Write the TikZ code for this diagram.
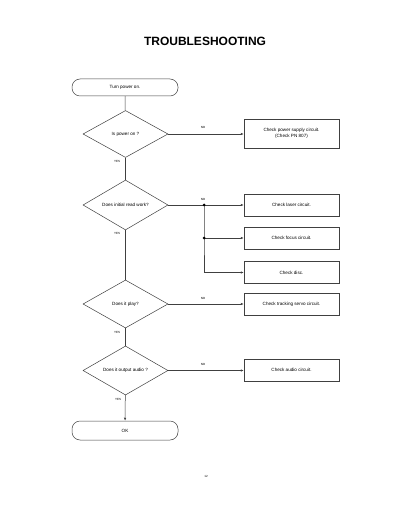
\documentclass[tikz,border=0pt]{standalone}
\usepackage{fontspec}
\setmainfont{Liberation Sans}
\usetikzlibrary{shapes.geometric,arrows.meta}
\tikzset{
  ln/.style={draw=black!75, line width=0.5pt},
  term/.style={ln, rounded corners=8pt, minimum width=106pt, minimum height=17pt, inner sep=0pt, font=\fontsize{4.6}{5.5}\selectfont},
  dec/.style={ln, diamond, minimum width=85pt, minimum height=47pt, inner sep=0pt, font=\fontsize{4.6}{5.5}\selectfont},
  act/.style={ln, rectangle, minimum width=95pt, minimum height=22pt, inner sep=0pt, align=center, font=\fontsize{4.6}{5.5}\selectfont},
  arr/.style={ln, -{Latex[length=3pt,width=2.4pt]}},
  tiny/.style={font=\fontsize{3}{3.5}\selectfont, inner sep=0pt},
  jdot/.style={circle, fill=black, inner sep=0pt, minimum size=3pt}
}
\begin{document}
\begin{tikzpicture}[x=1pt,y=-1pt]
\useasboundingbox[fill=white] (0,0) rectangle (400,518);
\node[font=\bfseries\fontsize{12}{14}\selectfont] (title) at (205,41) {TROUBLESHOOTING};

\node[term] (t1) at (125,87.5) {Turn power on.};
\node[dec] (d1) at (125.5,134) {Is power on ?};
\node[act, minimum height=29pt] (b1) at (291.5,133.5) {Check power supply circuit.\\(Check PN 807)};

\node[dec] (d2) at (125.5,205) {Does initial read work?};
\coordinate (j1) at (204,205);
\coordinate (j2) at (204,238);
\coordinate (j3) at (204,272.5);
\node[act] (b2) at (291.5,205) {Check laser circuit.};
\node[act] (b3) at (291.5,238) {Check focus circuit.};
\node[act] (b4) at (291.5,272.5) {Check disc.};

\node[dec, minimum height=48pt] (d3) at (125.5,304) {Does it play?};
\node[act] (b5) at (291.5,304) {Check tracking servo circuit.};

\node[dec] (d4) at (125.5,370.5) {Does it output audio ?};
\node[act] (b6) at (291.5,370) {Check audio circuit.};

\node[term, minimum height=19pt] (t2) at (125,430.5) {OK};

\draw[ln] (t1) -- (d1);
\draw[arr] (d1.east) -- (b1.west |- d1.east);
\draw[ln] (d1) -- (d2);
\draw[ln] (d2.east) -- (j1);
\draw[arr] (j1) -- (b2);
\draw[ln] (j1) -- (j2) -- (j3);
\draw[arr] (j2) -- (b3);
\draw[arr] (j3) -- (b4);
\node[jdot] (dot1) at (j1) {};
\node[jdot] (dot2) at (j2) {};
\draw[ln] (d2) -- (d3);
\draw[arr] (d3) -- (b5);
\draw[ln] (d3) -- (d4);
\draw[arr] (d4.east) -- (b6.west |- d4.east);
\draw[arr] (d4) -- (t2);

\node[tiny] (n1) at (203,127.5) {NO};
\node[tiny] (y1) at (117,161) {YES};
\node[tiny] (n2) at (203,199) {NO};
\node[tiny] (y2) at (117,233) {YES};
\node[tiny] (n3) at (203,298) {NO};
\node[tiny] (y3) at (117,332) {YES};
\node[tiny] (n4) at (203,364) {NO};
\node[tiny] (y4) at (118,399) {YES};
\node[tiny] (pg) at (206,476) {12};
\end{tikzpicture}
\end{document}
